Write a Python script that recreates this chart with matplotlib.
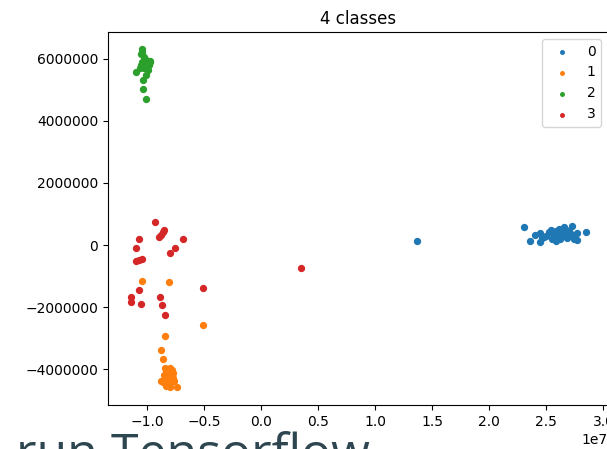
import numpy as np
import matplotlib
matplotlib.use("Agg")
import matplotlib.pyplot as plt

# x values in units of 1e7, y values in units of 1e6
class0_x = [1.368, 2.301, 2.851, 2.360, 2.404, 2.447, 2.447, 2.48, 2.52, 2.50, 2.55, 2.56, 2.58, 2.60, 2.62,
            2.63, 2.652, 2.66, 2.68, 2.70, 2.725, 2.72, 2.74, 2.77, 2.77, 2.54, 2.61, 2.67, 2.46, 2.58]
class0_y = [0.13, 0.57, 0.41, 0.14, 0.32, 0.38, 0.11, 0.25, 0.43, 0.30, 0.20, 0.35, 0.45, 0.28, 0.18,
            0.40, 0.59, 0.30, 0.22, 0.45, 0.61, 0.35, 0.18, 0.38, 0.16, 0.48, 0.52, 0.50, 0.22, 0.13]

class1_x = [-1.046, -0.807, -0.506, -0.842, -0.880, -0.860, -0.842, -0.80, -0.783, -0.83, -0.80, -0.77, -0.85,
            -0.81, -0.78, -0.880, -0.84, -0.80, -0.77, -0.82, -0.79, -0.76, -0.83, -0.80, -0.739, -0.86]
class1_y = [-1.16, -1.19, -2.57, -2.92, -3.39, -3.68, -3.98, -3.98, -4.03, -4.10, -4.15, -4.12, -4.20,
            -4.25, -4.22, -4.38, -4.32, -4.35, -4.30, -4.45, -4.42, -4.40, -4.55, -4.57, -4.59, -4.42]

class2_x = [-1.046, -1.055, -1.03, -1.00, -1.04, -0.97, -1.02, -1.05, -1.00, -0.98, -1.03, -1.06, -0.99,
            -0.974, -1.099, -1.009, -1.038, -1.032, -1.011, -1.02, -1.045]
class2_y = [6.33, 6.15, 6.05, 5.95, 5.90, 5.92, 5.85, 5.80, 5.75, 5.82, 5.70, 5.72, 5.65,
            5.91, 5.59, 5.48, 5.32, 5.03, 4.71, 6.00, 6.22]

class3_x = [-0.930, -0.851, -0.862, -0.877, -0.892, -1.073, -0.682, -1.099, -0.752, -0.798, -1.046, -1.070,
            -1.096, -1.073, -0.506, -1.143, -1.143, -0.886, -1.055, -0.868, -0.842, 0.351]
class3_y = [0.73, 0.48, 0.41, 0.32, 0.27, 0.18, 0.18, -0.09, -0.09, -0.27, -0.44, -0.47,
            -0.51, -1.45, -1.39, -1.68, -1.85, -1.68, -1.91, -1.95, -2.27, -0.74]

labels = ["0", "1", "2", "3"]
xs = [class0_x, class1_x, class2_x, class3_x]
ys = [class0_y, class1_y, class2_y, class3_y]
colors = ["#1f77b4", "#ff7f0e", "#2ca02c", "#d62728"]

W, H = 607, 449
fig = plt.figure(figsize=(W / 100, H / 100), dpi=100)
ax = fig.add_axes([108 / W, 44 / H, 500 / W, 373 / H])

for x, y, c, lab in zip(xs, ys, colors, labels):
    ax.scatter(np.array(x) * 1e7, np.array(y) * 1e6, s=18, color=c, label=lab)

ax.set_xlim(-1.342e7, 3.04e7)
ax.set_ylim(-5.16e6, 6.87e6)
ax.set_xticks(np.arange(-1.0, 3.01, 0.5) * 1e7)
ax.set_yticks(np.arange(-4, 6.1, 2) * 1e6)
ax.ticklabel_format(axis="y", style="plain")
ax.set_title("4 classes", fontsize=12)
ax.legend(loc="upper right", markerscale=0.6)

# page heading that sits under the chart in the source screenshot
fig.text(16 / W, -20 / H, "run Tensorflow", fontsize=36, color="#2e4650",
         family="Open Sans", ha="left", va="baseline")

fig.savefig("out.png", dpi=100)
